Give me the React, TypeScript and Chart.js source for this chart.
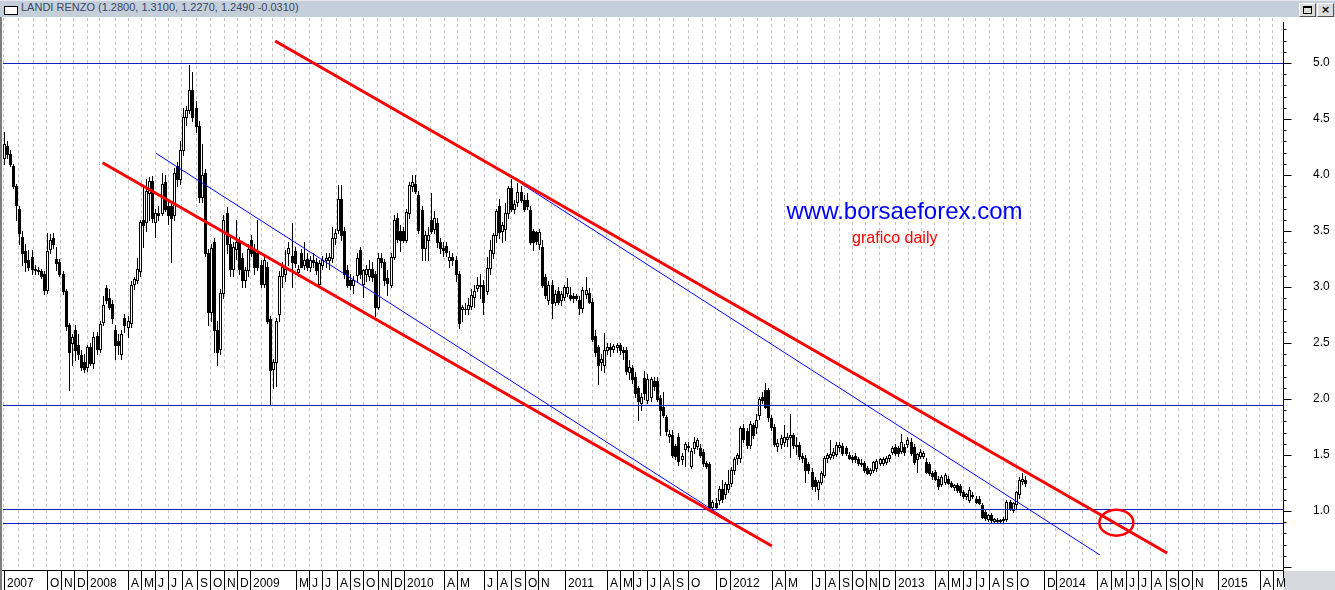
import React, { useEffect, useRef } from 'react';
import { Chart, registerables } from 'chart.js';

Chart.register(...registerables);

// ---------- data ----------
const chartTitle = 'LANDI RENZO (1.2800, 1.3100, 1.2270, 1.2490 -0.0310)';

const opens = [
  4.15,4.26,4.19,4.08,3.90,3.70,3.45,3.32,3.24,3.27,
  3.16,3.15,3.14,3.12,2.97,3.34,3.44,3.25,3.22,3.12,
  2.96,2.66,2.50,2.62,2.48,2.39,2.33,2.29,2.46,2.32,
  2.56,2.45,2.69,2.99,2.90,2.85,2.62,2.52,2.40,2.72,
  2.64,2.68,3.03,3.06,3.14,3.60,3.58,3.84,3.95,3.58,
  3.66,3.66,3.94,3.72,3.72,3.64,4.08,3.96,4.22,4.52,
  4.58,4.76,4.60,4.44,3.80,4.02,3.30,2.78,3.40,2.62,
  2.45,2.95,3.66,3.38,3.16,3.34,3.40,3.26,3.06,3.15,
  3.42,3.33,3.30,3.20,3.03,3.18,2.71,2.27,2.33,2.76,
  3.10,3.12,3.30,3.28,3.32,3.13,3.30,3.20,3.25,3.18,
  3.24,3.22,3.03,3.20,3.24,3.24,3.26,3.44,3.51,3.79,
  3.50,3.15,3.06,3.02,3.11,3.33,3.03,3.12,3.10,3.16,
  3.12,2.82,3.26,3.22,3.08,3.02,3.27,3.62,3.50,3.50,
  3.42,3.66,3.90,3.92,3.82,3.69,3.35,3.42,3.60,3.52,
  3.57,3.40,3.35,3.37,3.24,3.27,3.24,3.12,2.80,2.80,
  2.80,2.83,2.91,2.99,3.02,3.02,2.96,3.17,3.30,3.46,
  3.72,3.50,3.52,3.66,3.88,3.70,3.76,3.85,3.78,3.78,
  3.69,3.50,3.49,3.38,3.36,3.09,2.88,3.02,2.87,2.96,
  2.88,2.91,2.95,2.93,2.92,2.92,2.88,2.81,2.94,2.95,
  2.87,2.56,2.46,2.33,2.30,2.44,2.46,2.45,2.46,2.48,
  2.44,2.44,2.24,2.28,2.20,2.10,1.96,2.19,1.99,2.02,
  2.16,2.16,2.01,1.93,1.84,1.67,1.68,1.58,1.66,1.46,
  1.55,1.58,1.40,1.56,1.58,1.56,1.53,1.43,1.42,1.04,
  1.07,1.10,1.20,1.15,1.20,1.25,1.37,1.47,1.47,1.74,
  1.71,1.59,1.77,1.75,1.86,2.02,2.08,2.08,1.83,1.75,
  1.58,1.60,1.62,1.64,1.66,1.68,1.59,1.59,1.49,1.47,
  1.42,1.35,1.28,1.20,1.26,1.32,1.47,1.48,1.50,1.51,
  1.57,1.58,1.56,1.50,1.48,1.49,1.46,1.43,1.43,1.38,
  1.34,1.37,1.38,1.43,1.43,1.44,1.47,1.53,1.57,1.56,
  1.54,1.57,1.60,1.62,1.57,1.46,1.49,1.49,1.44,1.42,
  1.34,1.35,1.29,1.24,1.26,1.29,1.25,1.21,1.23,1.22,
  1.17,1.13,1.10,1.14,1.11,1.11,1.05,0.99,0.93,0.96,
  0.91,0.92,0.91,0.92,0.93,1.08,1.01,1.06,1.15,1.27,
  1.28,
];

const highs = [
  4.38,4.30,4.22,4.10,3.92,3.72,3.50,3.38,3.33,3.33,
  3.20,3.18,3.16,3.14,3.48,3.47,3.48,3.36,3.25,3.14,
  2.98,2.68,2.58,2.66,2.58,2.44,2.40,2.48,2.50,2.60,
  2.60,2.70,2.92,3.02,2.98,2.88,2.66,2.58,2.62,2.76,
  2.74,3.05,3.09,3.26,3.60,3.90,3.96,3.98,3.99,3.70,
  3.72,4.02,4.00,3.76,3.76,4.06,4.12,4.30,4.60,4.62,
  4.98,4.92,4.66,4.48,4.28,4.05,3.34,3.38,3.44,2.70,
  2.98,3.64,3.71,3.45,3.40,3.60,3.45,3.30,3.18,3.38,
  3.46,3.38,3.60,3.24,3.28,3.22,2.74,2.36,2.72,3.14,
  3.22,3.33,3.40,3.57,3.36,3.20,3.34,3.40,3.30,3.28,
  3.30,3.26,3.24,3.28,3.30,3.30,3.54,3.52,3.91,3.91,
  3.54,3.20,3.12,3.10,3.30,3.36,3.16,3.20,3.24,3.22,
  3.14,3.30,3.30,3.25,3.15,3.30,3.64,3.66,3.55,3.54,
  3.70,3.94,4.00,4.00,3.86,3.72,3.50,3.54,3.84,3.68,
  3.62,3.44,3.40,3.40,3.32,3.30,3.28,3.14,2.84,2.86,
  2.90,2.98,3.02,3.09,3.12,3.06,3.27,3.42,3.48,3.70,
  3.79,3.58,3.75,3.90,3.96,3.78,3.93,3.90,3.82,3.84,
  3.72,3.52,3.50,3.52,3.42,3.12,3.05,3.06,2.97,3.00,
  2.96,3.02,3.08,3.00,2.95,2.94,2.92,3.00,3.09,2.99,
  2.90,2.62,2.48,2.40,2.59,2.50,2.50,2.49,2.50,2.50,
  2.46,2.46,2.35,2.30,2.24,2.12,2.05,2.25,2.22,2.20,
  2.20,2.20,2.04,2.06,1.86,1.72,1.72,1.60,1.70,1.52,
  1.62,1.62,1.56,1.66,1.65,1.60,1.55,1.45,1.44,1.10,
  1.12,1.22,1.28,1.26,1.37,1.39,1.48,1.52,1.76,1.78,
  1.74,1.80,1.79,1.87,2.02,2.06,2.14,2.10,1.86,1.78,
  1.64,1.68,1.77,1.70,1.87,1.70,1.66,1.62,1.52,1.50,
  1.44,1.38,1.30,1.28,1.36,1.49,1.52,1.63,1.56,1.62,
  1.62,1.61,1.58,1.53,1.50,1.52,1.48,1.46,1.45,1.40,
  1.38,1.45,1.46,1.47,1.48,1.49,1.51,1.58,1.60,1.58,
  1.69,1.60,1.66,1.65,1.60,1.52,1.55,1.54,1.47,1.44,
  1.36,1.37,1.31,1.32,1.34,1.31,1.27,1.24,1.25,1.24,
  1.19,1.16,1.21,1.17,1.13,1.13,1.07,1.01,0.97,0.98,
  0.94,0.94,0.93,0.95,1.10,1.10,1.08,1.18,1.30,1.34,
  1.31,
];

const lows = [
  4.10,4.15,4.08,3.88,3.60,3.38,3.20,3.14,3.15,3.12,
  3.12,3.12,3.08,2.94,2.95,3.30,3.35,3.15,3.10,2.94,
  2.62,2.08,2.30,2.35,2.36,2.26,2.24,2.25,2.30,2.28,
  2.40,2.42,2.66,2.86,2.80,2.68,2.36,2.40,2.36,2.60,
  2.55,2.64,2.98,3.04,3.10,3.36,3.50,3.60,3.58,3.45,
  3.60,3.64,3.68,3.56,3.22,3.60,3.90,3.92,4.18,4.45,
  4.55,4.48,4.38,3.76,3.76,3.28,2.66,2.70,2.42,2.30,
  2.40,2.90,3.30,3.10,3.10,3.25,3.12,3.00,3.00,3.10,
  3.28,3.12,3.15,3.00,3.00,2.68,1.95,2.10,2.12,2.70,
  3.00,3.05,3.20,3.00,3.18,3.10,3.18,3.16,3.15,3.14,
  3.18,3.12,3.00,3.16,3.18,3.16,3.22,3.38,3.48,3.42,
  3.08,3.00,2.98,2.95,3.05,3.08,2.91,3.05,3.06,3.05,
  2.74,2.80,3.18,3.02,2.93,3.00,3.25,3.40,3.32,3.40,
  3.40,3.62,3.86,3.84,3.48,3.24,3.24,3.24,3.48,3.48,
  3.36,3.30,3.28,3.28,3.18,3.20,3.05,2.63,2.70,2.76,
  2.76,2.80,2.82,2.96,2.90,2.76,2.94,3.12,3.26,3.40,
  3.44,3.40,3.42,3.62,3.68,3.66,3.72,3.76,3.68,3.70,
  3.38,3.33,3.38,3.34,3.00,2.90,2.85,2.72,2.84,2.85,
  2.84,2.88,2.92,2.88,2.87,2.88,2.76,2.78,2.90,2.86,
  2.52,2.38,2.13,2.26,2.24,2.40,2.38,2.42,2.42,2.40,
  2.36,2.22,2.18,2.14,2.02,1.81,1.90,2.00,1.96,1.98,
  2.08,1.98,1.68,1.84,1.68,1.62,1.48,1.46,1.41,1.42,
  1.40,1.54,1.38,1.52,1.55,1.48,1.40,1.38,1.02,1.01,
  1.02,1.06,1.08,1.12,1.17,1.22,1.33,1.42,1.44,1.62,
  1.56,1.56,1.65,1.70,1.82,1.96,1.92,1.80,1.72,1.58,
  1.54,1.56,1.58,1.58,1.48,1.56,1.51,1.46,1.44,1.26,
  1.34,1.20,1.18,1.11,1.24,1.30,1.44,1.46,1.47,1.49,
  1.54,1.50,1.50,1.46,1.44,1.44,1.41,1.40,1.35,1.33,
  1.32,1.35,1.36,1.41,1.41,1.42,1.45,1.51,1.50,1.49,
  1.52,1.50,1.57,1.50,1.42,1.35,1.47,1.47,1.34,1.32,
  1.29,1.28,1.20,1.22,1.24,1.24,1.21,1.19,1.17,1.14,
  1.12,1.11,1.08,1.12,1.07,1.06,0.94,0.92,0.91,0.90,
  0.89,0.90,0.90,0.90,0.91,1.01,0.99,1.03,1.12,1.24,
  1.227,
];

const closes = [
  4.28,4.19,4.10,3.90,3.73,3.48,3.30,3.22,3.18,3.16,
  3.15,3.14,3.10,2.97,3.32,3.42,3.38,3.21,3.12,2.96,
  2.65,2.42,2.55,2.44,2.40,2.29,2.27,2.46,2.32,2.55,
  2.45,2.67,2.84,2.88,2.82,2.72,2.48,2.48,2.58,2.66,
  2.70,3.02,3.07,3.16,3.58,3.55,3.86,3.95,3.62,3.66,
  3.64,3.92,3.70,3.64,3.62,4.02,3.96,4.22,4.52,4.58,
  4.76,4.52,4.44,3.80,4.00,3.30,2.78,3.35,2.62,2.42,
  2.95,3.60,3.38,3.16,3.36,3.40,3.16,3.06,3.15,3.34,
  3.30,3.18,3.18,3.03,3.24,2.70,2.26,2.33,2.70,3.10,
  3.18,3.16,3.35,3.22,3.21,3.16,3.18,3.24,3.18,3.24,
  3.22,3.15,3.21,3.24,3.26,3.27,3.44,3.48,3.79,3.46,
  3.12,3.02,3.02,3.06,3.26,3.12,3.15,3.16,3.16,3.09,
  2.82,3.26,3.22,3.06,3.04,3.27,3.60,3.43,3.42,3.42,
  3.67,3.91,3.94,3.86,3.51,3.35,3.46,3.46,3.50,3.62,
  3.40,3.35,3.33,3.31,3.27,3.24,3.12,2.68,2.82,2.80,
  2.84,2.93,2.96,3.02,3.01,2.87,3.17,3.33,3.46,3.68,
  3.49,3.55,3.66,3.88,3.70,3.74,3.85,3.78,3.70,3.72,
  3.40,3.40,3.41,3.49,3.02,2.93,3.02,2.86,2.94,2.87,
  2.94,3.00,3.00,2.90,2.90,2.90,2.81,2.97,2.97,2.87,
  2.54,2.42,2.30,2.36,2.44,2.46,2.45,2.47,2.48,2.44,
  2.42,2.25,2.29,2.18,2.05,1.98,2.02,2.05,2.18,2.18,
  2.12,2.00,1.90,1.86,1.71,1.69,1.50,1.49,1.45,1.49,
  1.60,1.57,1.54,1.62,1.63,1.50,1.43,1.40,1.04,1.08,
  1.04,1.20,1.11,1.24,1.24,1.37,1.46,1.50,1.74,1.64,
  1.59,1.78,1.68,1.81,2.00,1.99,1.93,1.84,1.75,1.60,
  1.61,1.65,1.66,1.66,1.68,1.59,1.58,1.49,1.47,1.37,
  1.37,1.22,1.22,1.26,1.34,1.47,1.50,1.51,1.53,1.59,
  1.59,1.52,1.52,1.47,1.46,1.46,1.43,1.42,1.37,1.34,
  1.37,1.44,1.45,1.46,1.46,1.47,1.50,1.56,1.52,1.52,
  1.62,1.53,1.63,1.52,1.44,1.51,1.53,1.52,1.35,1.34,
  1.31,1.29,1.22,1.30,1.32,1.25,1.22,1.23,1.19,1.17,
  1.13,1.15,1.19,1.13,1.08,1.07,0.95,0.94,0.96,0.92,
  0.93,0.91,0.92,0.93,1.08,1.02,1.07,1.17,1.28,1.29,
  1.249,
];

// one entry per month from Jul 2007 to May 2015 ('' = month boundary without a label)
const monthLabels = [
  '2007','','','O','N','D',
  '2008','','','A','M','J','J','A','S','O','N','D',
  '2009','','','','M','J','J','A','S','O','N','D',
  '2010','','','A','M','','J','A','S','O','N','',
  '2011','','','A','M','J','J','A','S','O','','D',
  '2012','','','A','M','','J','A','S','O','N','D',
  '2013','','','A','M','J','J','A','S','O','','D',
  '2014','','','A','M','J','J','A','S','O','N','',
  '2015','','','A','M',
];
// bar number at which each month starts (weekly bars)
const monthBars = [
  0, 4.7, 9.6, 13.9, 18.5, 22.7,
  27.0, 31.1, 36.0, 40.2, 44.4, 48.9, 53.2, 57.6, 62.4, 66.7, 71.2, 75.5,
  79.6, 83.3, 87.0, 90.7, 94.4, 98.7, 102.7, 107.6, 111.9, 116.2, 120.8, 125.1,
  129.3, 133.4, 137.9, 142.3, 146.6, 150.9, 155.2, 159.3, 163.8, 168.4, 172.7, 177.1,
  181.4, 185.7, 190.2, 194.8, 199.1, 203.4, 207.8, 212.0, 216.4, 221.2, 225.7, 230.1,
  234.7, 238.9, 243.4, 248.1, 252.4, 256.6, 261.0, 265.3, 270.0, 274.2, 278.6, 282.9,
  288.0, 292.2, 296.4, 300.9, 305.2, 310.0, 314.0, 318.4, 323.0, 327.3, 331.6, 336.2,
  339.9, 344.2, 348.7, 353.1, 357.7, 362.5, 366.4, 370.6, 375.5, 379.5, 384.0, 388.1,
  392.4, 396.9, 401.4, 405.9, 410.0,
];

const priceLabels = [1.0, 1.5, 2.0, 2.5, 3.0, 3.5, 4.0, 4.5, 5.0];
const levelLines = [5.0, 1.945, 1.02, 0.89];

// trend lines (x = weekly bar number, y = price)
const redUpper = [{ x: 87.7, y: 5.196 }, { x: 375.9, y: 0.625 }];
const redLower = [{ x: 31.95, y: 4.11 }, { x: 248.2, y: 0.6875 }];
const blueLower = [{ x: 49.2, y: 4.194 }, { x: 236.6, y: 0.875 }];
const blueUpper = [{ x: 167.4, y: 3.92 }, { x: 354.2, y: 0.607 }];
const targetCircle = { x: 359.5, y: 0.896 };

const siteText = 'www.borsaeforex.com';
const siteTextAt = { x: 291.05, y: 3.67 };
const noteText = 'grafico daily';
const noteTextAt = { x: 287.9, y: 3.43 };

// ---------- drawing ----------
const FONT = '"Liberation Sans", Arial, sans-serif';
const LEVEL_COLOR = '#1020c0';

const paintPlugin = {
  id: 'paintPlugin',
  beforeDatasetsDraw(chart: any) {
    const { ctx, chartArea: a } = chart;
    const x = chart.scales.x;
    const y = chart.scales.y;
    ctx.save();
    ctx.beginPath();
    ctx.rect(a.left, a.top, a.right - a.left, a.bottom - a.top);
    ctx.clip();
    for (let i = 0; i < closes.length; i++) {
      const cx = Math.round(x.getPixelForValue(i));
      const yh = Math.round(y.getPixelForValue(highs[i]));
      const yl = Math.round(y.getPixelForValue(lows[i]));
      const yo = y.getPixelForValue(opens[i]);
      const yc = y.getPixelForValue(closes[i]);
      const top = Math.round(Math.min(yo, yc));
      const bot = Math.round(Math.max(yo, yc));
      ctx.fillStyle = '#000';
      ctx.fillRect(cx, yh, 1, yl - yh + 1);
      ctx.fillRect(cx - 1, top, 3, bot - top + 1);
      if (closes[i] > opens[i] && bot - top >= 2) {
        ctx.fillStyle = '#fff';
        ctx.fillRect(cx, top + 1, 1, bot - top - 1);
      }
    }
    ctx.strokeStyle = LEVEL_COLOR;
    ctx.lineWidth = 1;
    for (const v of levelLines) {
      const py = Math.round(y.getPixelForValue(v)) + 0.5;
      ctx.beginPath();
      ctx.moveTo(a.left, py);
      ctx.lineTo(a.right, py);
      ctx.stroke();
    }
    ctx.restore();
  },
  afterDatasetsDraw(chart: any) {
    const { ctx } = chart;
    const x = chart.scales.x;
    const y = chart.scales.y;
    ctx.save();
    ctx.strokeStyle = '#ff0000';
    ctx.lineWidth = 2.5;
    ctx.beginPath();
    ctx.ellipse(x.getPixelForValue(targetCircle.x), y.getPixelForValue(targetCircle.y), 17, 13, 0, 0, Math.PI * 2);
    ctx.stroke();
    ctx.textAlign = 'center';
    ctx.textBaseline = 'middle';
    ctx.fillStyle = '#0000ff';
    ctx.font = '24px ' + FONT;
    ctx.fillText(siteText, x.getPixelForValue(siteTextAt.x), y.getPixelForValue(siteTextAt.y));
    ctx.fillStyle = '#ff0000';
    ctx.font = '16px ' + FONT;
    ctx.fillText(noteText, x.getPixelForValue(noteTextAt.x), y.getPixelForValue(noteTextAt.y));
    ctx.restore();
  },
  afterDraw(chart: any) {
    const { ctx, chartArea: a, width, height } = chart;
    const x = chart.scales.x;
    const y = chart.scales.y;
    ctx.save();
    // bottom date strip
    const sTop = a.bottom;
    ctx.fillStyle = '#d6d8de';
    ctx.fillRect(a.right + 1, sTop + 1, width - a.right - 1, height - sTop - 1);
    ctx.strokeStyle = '#000';
    ctx.lineWidth = 1;
    ctx.beginPath();
    ctx.moveTo(0, sTop + 0.5);
    ctx.lineTo(a.right, sTop + 0.5);
    ctx.stroke();
    ctx.font = '12px ' + FONT;
    ctx.textAlign = 'left';
    ctx.textBaseline = 'alphabetic';
    ctx.fillStyle = '#000';
    monthLabels.forEach((lab, k) => {
      if (!lab) return;
      const px = Math.round(x.getPixelForValue(monthBars[k]));
      ctx.beginPath();
      ctx.moveTo(px + 0.5, sTop);
      ctx.lineTo(px + 0.5, height);
      ctx.stroke();
      ctx.fillText(lab, px + 3, height - 3);
    });
    // right price axis line and tick marks
    const ax = Math.round(a.right) + 0.5;
    ctx.beginPath();
    ctx.moveTo(ax, a.top + 4);
    ctx.lineTo(ax, sTop + 8);
    ctx.stroke();
    for (let k = 4; k <= 53; k++) {
      const py = Math.round(y.getPixelForValue(k / 10)) + 0.5;
      if (py < a.top + 4 || py > sTop + 8) continue;
      const len = k % 5 === 0 ? 8 : 3;
      ctx.beginPath();
      ctx.moveTo(ax, py);
      ctx.lineTo(ax + len, py);
      ctx.stroke();
    }
    // left frame
    ctx.fillStyle = '#7c7c7c';
    ctx.fillRect(0, a.top - 1, 2, height - a.top + 1);
    ctx.restore();
  },
};

export default function App() {
  const canvasRef = useRef<HTMLCanvasElement | null>(null);

  useEffect(() => {
    const canvas = canvasRef.current;
    if (!canvas) return;
    Chart.defaults.font.family = FONT;
    const chart = new Chart(canvas, {
      type: 'line',
      data: {
        datasets: [
          { data: redUpper, borderColor: '#ff0000', borderWidth: 3, pointRadius: 0 },
          { data: redLower, borderColor: '#ff0000', borderWidth: 3, pointRadius: 0 },
          { data: blueLower, borderColor: '#0000ff', borderWidth: 1, pointRadius: 0 },
          { data: blueUpper, borderColor: '#0000ff', borderWidth: 1, pointRadius: 0 },
        ],
      },
      options: {
        responsive: false,
        animation: false,
        events: [],
        layout: { padding: { left: 3, top: 18, right: 0, bottom: 20 } },
        plugins: { legend: { display: false }, tooltip: { enabled: false }, title: { display: false } },
        scales: {
          x: {
            type: 'linear',
            min: -0.226,
            max: 413.34,
            afterBuildTicks: (s: any) => { s.ticks = monthBars.map((v) => ({ value: v })); },
            afterFit: (s: any) => { s.height = 0; },
            ticks: { display: false },
            grid: { color: '#c6c1bd', lineWidth: 1, drawTicks: false },
            border: { display: false, dash: [3, 3] },
          },
          y: {
            position: 'right',
            min: 0.47321,
            max: 5.40179,
            afterBuildTicks: (s: any) => { s.ticks = priceLabels.map((v) => ({ value: v })); },
            afterFit: (s: any) => { s.width = 52; },
            ticks: {
              autoSkip: false,
              padding: 0,
              color: '#000',
              font: { family: FONT, size: 12 },
              callback: (v: any) => Number(v).toFixed(1),
            },
            grid: { drawOnChartArea: false, drawTicks: true, tickLength: 30, tickColor: 'rgba(0,0,0,0)' },
            border: { display: false },
          },
        },
      },
      plugins: [paintPlugin],
    } as any);
    return () => chart.destroy();
  }, []);

  return (
    <div style={{ position: 'fixed', left: 0, top: 0, width: 1335, height: 590, background: '#fff', overflow: 'hidden' }}>
      <canvas ref={canvasRef} width={1335} height={590} style={{ position: 'absolute', left: 0, top: 0 }} />
      <div
        style={{
          position: 'absolute', left: 0, top: 0, width: 1335, height: 17,
          background: '#c4cfda', borderTop: '1px solid #e4e8ee', boxSizing: 'border-box',
        }}
      >
        <div style={{ position: 'absolute', left: 4, top: 5, width: 12, height: 7, border: '1px solid #000', background: '#fff' }} />
        <div
          style={{
            position: 'absolute', left: 21, top: 0, height: 16, lineHeight: '16px',
            font: '11px "Liberation Sans", Arial, sans-serif', color: '#3a4568', whiteSpace: 'nowrap',
          }}
        >
          {chartTitle}
        </div>
        <div
          style={{
            position: 'absolute', left: 1299, top: 2, width: 15, height: 12, background: '#dcdcdc',
            borderTop: '1px solid #fff', borderLeft: '1px solid #fff', borderRight: '1px solid #555', borderBottom: '1px solid #555',
          }}
        >
          <div style={{ position: 'absolute', left: 3, top: 2, width: 7, height: 5, border: '1px solid #000', borderTopWidth: 2 }} />
        </div>
        <div
          style={{
            position: 'absolute', left: 1317, top: 2, width: 15, height: 12, background: '#dcdcdc',
            borderTop: '1px solid #fff', borderLeft: '1px solid #fff', borderRight: '1px solid #555', borderBottom: '1px solid #555',
            font: 'bold 11px "DejaVu Sans", sans-serif', lineHeight: '12px', textAlign: 'center', color: '#000',
          }}
        >
          ×
        </div>
      </div>
    </div>
  );
}
